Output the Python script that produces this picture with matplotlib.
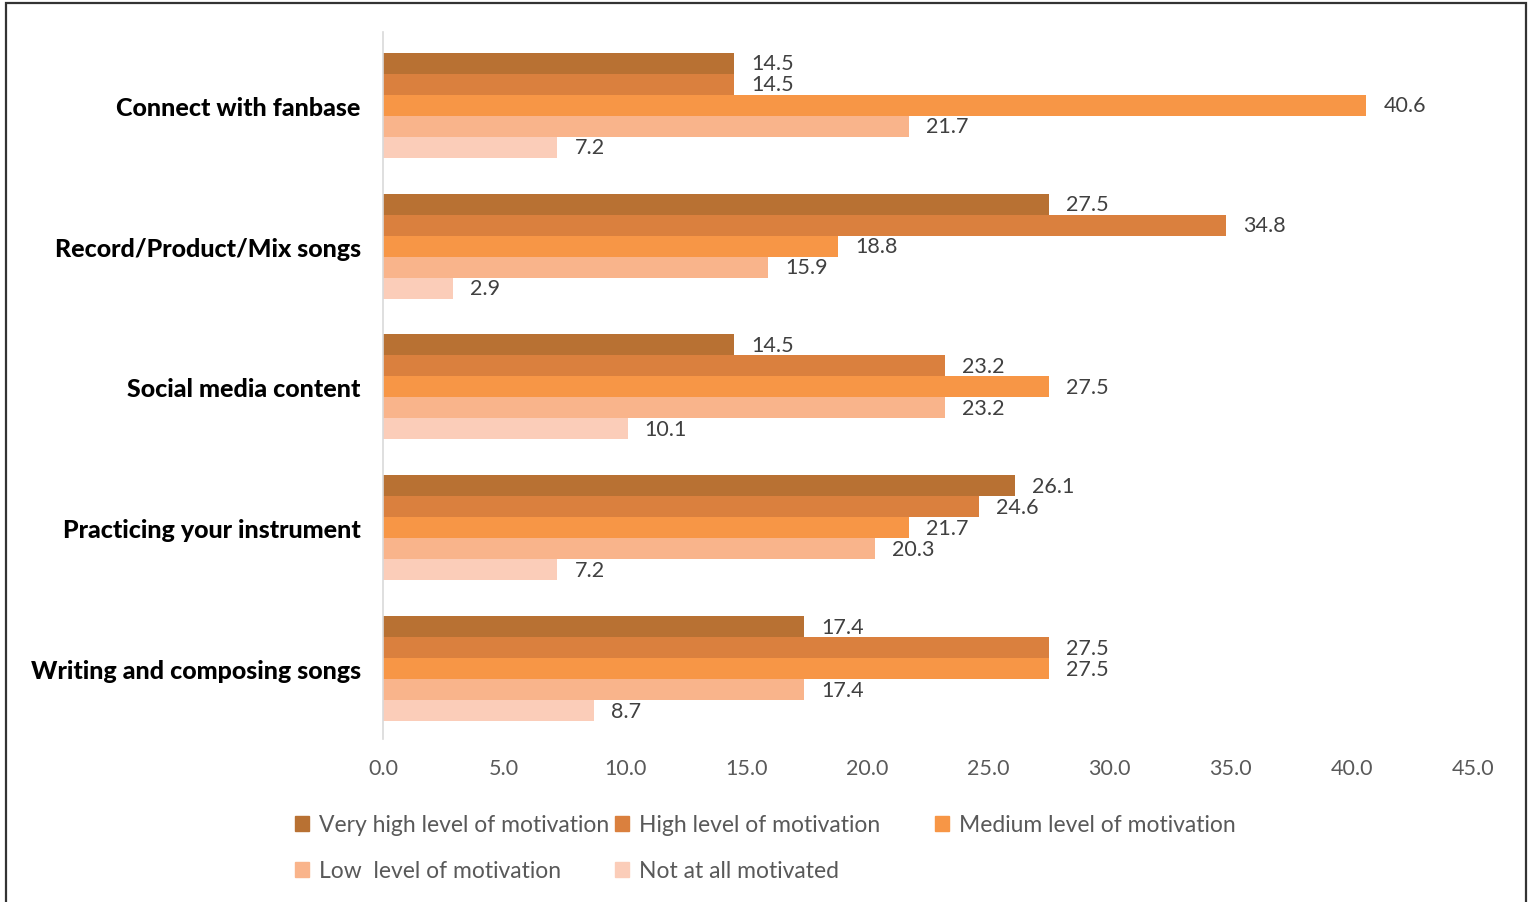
import matplotlib
matplotlib.use("Agg")
import matplotlib.pyplot as plt
import matplotlib.patches as mpatches
import numpy as np

categories = ["Connect with fanbase", "Record/Product/Mix songs", "Social media content",
              "Practicing your instrument", "Writing and composing songs"]
series_names = ["Very high level of motivation", "High level of motivation",
                "Medium level of motivation", "Low  level of motivation", "Not at all motivated"]
very_high = [14.5, 27.5, 14.5, 26.1, 17.4]
high = [14.5, 34.8, 23.2, 24.6, 27.5]
medium = [40.6, 18.8, 27.5, 21.7, 27.5]
low = [21.7, 15.9, 23.2, 20.3, 17.4]
not_at_all = [7.2, 2.9, 10.1, 7.2, 8.7]
colors = ["#B87133", "#DA803E", "#F79646", "#F9B48B", "#FBCDB9"]
xticks = [0, 5, 10, 15, 20, 25, 30, 35, 40, 45]

series = [very_high, high, medium, low, not_at_all]

FONT = "Lato"
W, H = 1528, 903
fig = plt.figure(figsize=(W / 100, H / 100), dpi=100)
ax = fig.add_axes([383 / W, 1 - 740 / H, (1473 - 383) / W, (740 - 33) / H])

n = len(categories)
bh = 0.149
y0 = np.arange(n)
for i, (vals, c) in enumerate(zip(series, colors)):
    ys = y0 + (i - 2) * bh
    ax.barh(ys, vals, height=bh, color=c, edgecolor="none", label=series_names[i])
    for yy, v in zip(ys, vals):
        ax.annotate(f"{v:.1f}", (v, yy), xytext=(17, 0), textcoords="offset pixels",
                    ha="left", va="center", fontsize=15.5, color="#404040", family=FONT)

ax.set_ylim(n - 0.5, -0.52)
ax.set_xlim(0, 45)
ax.set_xticks(xticks)
ax.set_xticklabels([f"{t:.1f}" for t in xticks], fontsize=15.5, color="#595959", family=FONT)
ax.set_yticks(y0)
ax.set_yticklabels(categories, fontsize=18, fontweight=900, color="black", family=FONT)
ax.tick_params(axis="both", length=0)
ax.tick_params(axis="x", pad=14)
ax.tick_params(axis="y", pad=16)
for s in ["top", "right", "bottom"]:
    ax.spines[s].set_visible(False)
ax.spines["left"].set_color("#D9D9D9")
ax.spines["left"].set_linewidth(1.2)

# legend entries placed individually
handles = [mpatches.Patch(color=c) for c in colors]
pos = [(295, 826), (615, 826), (935, 826), (295, 872), (615, 872)]
for h, name, (px, py) in zip(handles, series_names, pos):
    fig.legend([h], [name], loc="center left", bbox_to_anchor=(px / W, 1 - py / H),
               frameon=False, handlelength=0.6, handleheight=0.6, handletextpad=0.45,
               borderpad=0, borderaxespad=0,
               prop={"family": FONT, "size": 16.5}, labelcolor="#595959")

fig.patches.append(mpatches.Rectangle((6 / W, -0.01), (1526 - 6) / W, 1 - 4 / H + 0.01,
                                      transform=fig.transFigure, fill=False,
                                      edgecolor="#333333", linewidth=1.6))

fig.savefig("out.png", dpi=100)
